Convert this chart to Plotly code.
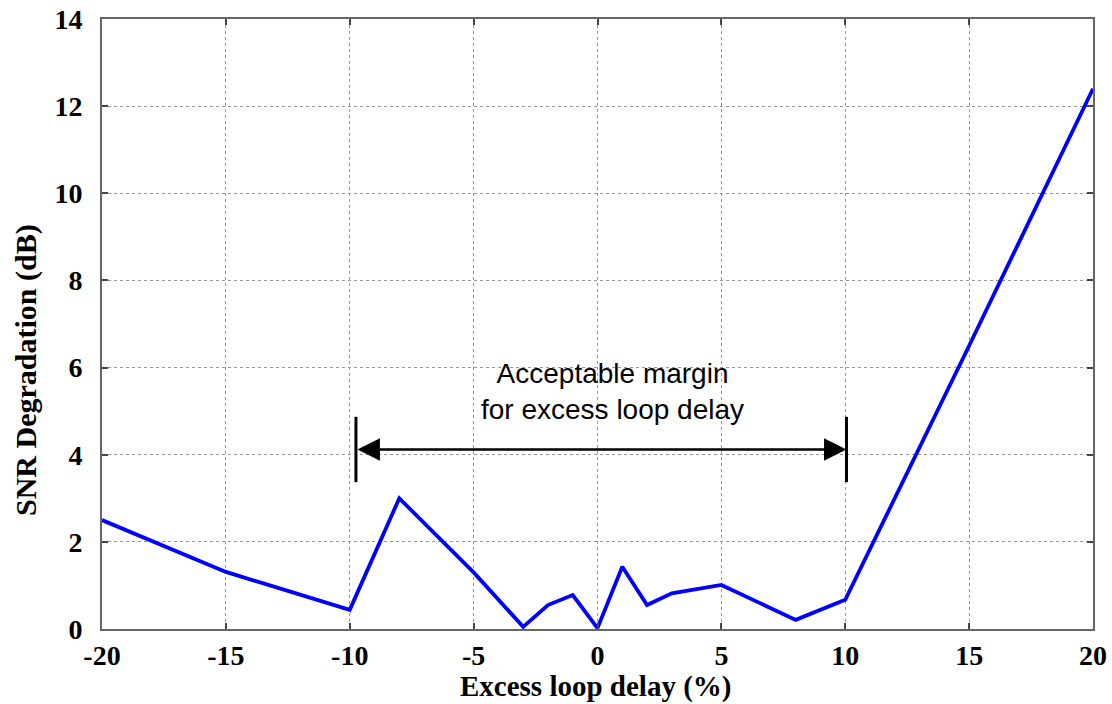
import plotly.graph_objects as go

# Measured SNR degradation versus excess loop delay
delay_pct = [-20, -15, -10, -8, -5, -3, -2, -1, 0, 1, 2, 3, 5, 8, 10, 15, 20]
snr_deg_db = [2.5, 1.31, 0.44, 3.0, 1.3, 0.05, 0.55, 0.78, 0.02, 1.43, 0.55, 0.82, 1.01, 0.21, 0.67, 6.5, 12.4]

x_ticks = [-20, -15, -10, -5, 0, 5, 10, 15, 20]
y_ticks = [0, 2, 4, 6, 8, 10, 12, 14]

# Acceptable margin bracket
margin_lo, margin_hi, margin_level = -9.75, 10.05, 4.12
bar_lo, bar_hi = 3.37, 4.87

serif = "Liberation Serif, Times New Roman"

fig = go.Figure()
fig.add_trace(go.Scatter(
    x=delay_pct, y=snr_deg_db, mode="lines",
    line=dict(color="#0000FF", width=3.8),
    showlegend=False, hoverinfo="skip",
))

# vertical end bars of the margin bracket
for xv in (margin_lo, margin_hi):
    fig.add_shape(type="line", x0=xv, x1=xv, y0=bar_lo, y1=bar_hi,
                  xref="x", yref="y", line=dict(color="black", width=3))

# double-headed arrow
fig.add_annotation(
    x=margin_hi, y=margin_level, ax=margin_lo, ay=margin_level,
    xref="x", yref="y", axref="x", ayref="y",
    text="", showarrow=True, arrowhead=2, startarrowhead=2,
    arrowside="end+start", arrowsize=1.8, startarrowsize=1.8,
    arrowwidth=2.5, arrowcolor="black",
)
fig.add_annotation(
    x=0.6, y=5.46, xref="x", yref="y",
    text="Acceptable margin<br>for excess loop delay",
    showarrow=False, align="center",
    font=dict(family="Liberation Sans, Arial", size=28, color="black"),
)

# axis titles
fig.add_annotation(
    x=0.498, y=-0.094, xref="paper", yref="paper",
    text="<b>Excess loop delay (%)</b>", showarrow=False,
    xanchor="center", yanchor="middle",
    font=dict(family=serif, size=29, color="black"),
)
fig.add_annotation(
    x=-0.0767, y=0.4246, xref="paper", yref="paper",
    text="<b>SNR Degradation (dB)</b>", showarrow=False, textangle=-90,
    xanchor="center", yanchor="middle",
    font=dict(family=serif, size=30, color="black"),
)

axis_common = dict(
    automargin=False,
    showgrid=True, gridcolor="#999999", griddash="dot", gridwidth=1,
    showline=True, linecolor="#666666", linewidth=2, mirror="ticks",
    ticks="inside", ticklen=6, tickcolor="#444444", tickwidth=1.5,
    zeroline=False,
    tickfont=dict(family=serif, size=28, color="black", weight="bold"),
)

fig.update_xaxes(
    range=[-20, 20], tickvals=x_ticks, ticktext=[str(v) for v in x_ticks],
    ticklabelstandoff=0,
    **axis_common,
)
fig.update_yaxes(
    range=[0, 14], tickvals=y_ticks, ticktext=[str(v) for v in y_ticks],
    ticklabelstandoff=12,
    **axis_common,
)

fig.update_layout(
    width=1112, height=704,
    margin=dict(l=102, r=19, t=19, b=75),
    paper_bgcolor="white", plot_bgcolor="white",
)

fig.write_html("out.html")
